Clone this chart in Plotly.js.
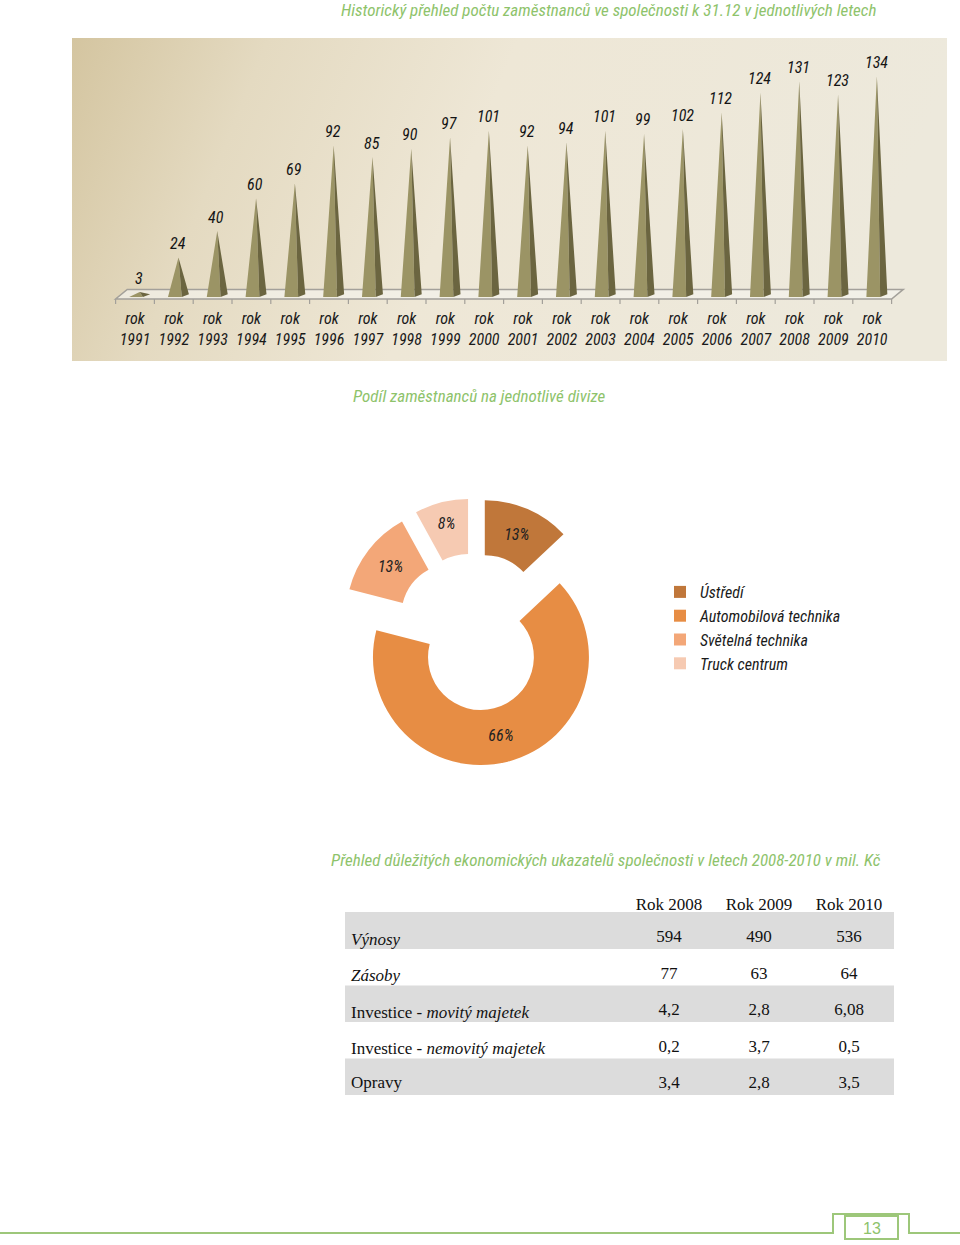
<!DOCTYPE html>
<html>
<head>
<meta charset="utf-8">
<script src="https://cdn.plot.ly/plotly-3.0.1.min.js"></script>
<style>html,body{margin:0;padding:0;background:#fff;}#chart{width:960px;height:1245px;}</style>
</head>
<body>
<div id="chart"></div>
<script>
// ---------------- DATA ----------------
const years = [1991,1992,1993,1994,1995,1996,1997,1998,1999,2000,2001,2002,2003,2004,2005,2006,2007,2008,2009,2010];
const employees = [3,24,40,60,69,92,85,90,97,101,92,94,101,99,102,112,124,131,123,134];
const yearTickText = years.map(y => 'rok<br>' + y);

const divisions = ['Ústředí','Automobilová technika','Světelná technika','Truck centrum'];
const divisionShares = [13,66,13,8];

const tableHeader = ['', 'Rok 2008', 'Rok 2009', 'Rok 2010'];
const indicators = ['<i>Výnosy</i>', '<i>Zásoby</i>', 'Investice - <i>movitý majetek</i>', 'Investice - <i>nemovitý majetek</i>', 'Opravy'];
const values2008 = [594, 77, 4.2, 0.2, 3.4];
const values2009 = [490, 63, 2.8, 3.7, 2.8];
const values2010 = [536, 64, 6.08, 0.5, 3.5];

const pageNumber = '13';

// ---------------- STYLE ----------------
const W = 960, H = 1245;
const px = p => p / W;
const py = p => 1 - p / H;
const NARROW = "'Roboto Condensed', 'Liberation Sans Narrow', 'Arial Narrow', 'Liberation Sans', Arial, sans-serif";
const SERIF = "'Liberation Serif', 'Times New Roman', serif";
const GREEN = '#8ec36b';
const FRONT = '#9b9465';
const SIDE = '#6b6540';

// pyramids built from the data through the x/y axes
const frontX = [], frontY = [], sideX = [], sideY = [];
employees.forEach((v, i) => {
  const apex = i + 0.12;
  frontX.push(i - 0.15, apex, i + 0.205, i - 0.15, null);
  frontY.push(0, v, 0, 0, null);
  sideX.push(i + 0.205, apex, i + 0.39, i + 0.205, null);
  sideY.push(0, v, 1.6, 0, null);
});

const fmt = v => String(v).replace('.', ',');

const traces = [
  {type: 'scatter', x: frontX, y: frontY, mode: 'lines', fill: 'toself', fillcolor: FRONT,
   line: {width: 0, color: FRONT}, hoverinfo: 'skip', showlegend: false, xaxis: 'x', yaxis: 'y'},
  {type: 'scatter', x: sideX, y: sideY, mode: 'lines', fill: 'toself', fillcolor: SIDE,
   line: {width: 0, color: SIDE}, hoverinfo: 'skip', showlegend: false, xaxis: 'x', yaxis: 'y'},
  {type: 'pie', labels: divisions, values: divisionShares, sort: false, direction: 'clockwise', rotation: 0,
   hole: 0.49, pull: 0.24,
   marker: {colors: ['#c0773a', '#e78d44', '#f3a778', '#f6cab2'], line: {width: 0}},
   textinfo: 'percent', textposition: 'inside', insidetextorientation: 'horizontal',
   textfont: {family: NARROW, size: 16, style: 'italic', color: '#222'},
   domain: {x: [px(474.5 - 133.9), px(474.5 + 133.9)], y: [py(632 + 133.9), py(632 - 133.9)]},
   hoverinfo: 'label+percent'},
  {type: 'table', columnwidth: [281, 90, 90, 90],
   domain: {x: [px(343), px(894)], y: [py(1110), py(889.5)]},
   header: {values: tableHeader, align: ['left', 'center', 'center', 'center'], height: 32,
            fill: {color: 'rgba(0,0,0,0)'}, line: {width: 0, color: 'rgba(0,0,0,0)'},
            font: {family: SERIF, size: 17, color: '#111'}},
   cells: {values: [indicators, values2008.map(fmt), values2009.map(fmt), values2010.map(fmt)],
           align: ['left', 'center', 'center', 'center'], height: 36.5,
           fill: {color: 'rgba(0,0,0,0)'},
           line: {width: 0, color: 'rgba(0,0,0,0)'},
           font: {family: SERIF, size: 17, color: '#111'}}}
];

// floor plate + ticks (decoration)
let tickPath = '';
for (let k = 0; k <= years.length; k++) {
  tickPath += `M${k - 0.5},-1.2 L${k - 0.5},-4.2 `;
}

const gradSvg = "<svg xmlns='http://www.w3.org/2000/svg' width='875' height='323' viewBox='0 0 875 323' preserveAspectRatio='none'>" +
  "<defs><linearGradient id='g' x1='0' y1='0' x2='1' y2='0.15'>" +
  "<stop offset='0' stop-color='#d4c5a0'/><stop offset='0.22' stop-color='#e4dac1'/>" +
  "<stop offset='0.5' stop-color='#eee7d6'/><stop offset='1' stop-color='#ede9dc'/>" +
  "</linearGradient></defs><rect width='875' height='323' fill='url(#g)'/></svg>";

const footY = py(1233), tabY = py(1214);
const shapes = [
  {type: 'path', xref: 'x', yref: 'y', layer: 'below',
   path: 'M-0.5,-1.2 L19.5,-1.2 L19.8,4.6 L-0.2,4.6 Z',
   fillcolor: 'rgba(244,242,236,0.7)', line: {color: '#a3a09a', width: 1.5}},
  {type: 'path', xref: 'x', yref: 'y', layer: 'below', path: tickPath,
   line: {color: '#a3a09a', width: 1.2}},
  // table row bands
  ...[[912, 949], [985.5, 1022], [1058.5, 1095]].map(b => ({type: 'rect', xref: 'paper', yref: 'paper', layer: 'below',
    x0: px(345), x1: px(894), y0: py(b[1]), y1: py(b[0]), fillcolor: '#dcdcdc', line: {width: 0}})),
  // footer line with page tab
  {type: 'path', xref: 'paper', yref: 'paper',
   path: `M0,${footY} L${px(833)},${footY} L${px(833)},${tabY} L${px(909)},${tabY} L${px(909)},${footY} L1,${footY}`,
   line: {color: '#9dc77a', width: 2}},
  {type: 'rect', xref: 'paper', yref: 'paper', x0: px(845), x1: px(898), y0: py(1239), y1: py(1216),
   line: {color: '#9dc77a', width: 2}}
];

const annotations = [
  {text: 'Historický přehled počtu zaměstnanců ve společnosti k 31.12 v jednotlivých letech',
   xref: 'paper', yref: 'paper', x: px(608), y: py(10), xanchor: 'center', yanchor: 'middle', showarrow: false,
   font: {family: NARROW, size: 17, style: 'italic', color: GREEN}},
  {text: 'Podíl zaměstnanců na jednotlivé divize',
   xref: 'paper', yref: 'paper', x: px(479.5), y: py(396), xanchor: 'center', yanchor: 'middle', showarrow: false,
   font: {family: NARROW, size: 17, style: 'italic', color: GREEN}},
  {text: 'Přehled důležitých ekonomických ukazatelů společnosti v letech 2008-2010 v mil. Kč',
   xref: 'paper', yref: 'paper', x: px(606), y: py(860), xanchor: 'center', yanchor: 'middle', showarrow: false,
   font: {family: NARROW, size: 17, style: 'italic', color: GREEN}},
  {text: pageNumber, xref: 'paper', yref: 'paper', x: px(871.5), y: py(1228), xanchor: 'center', yanchor: 'middle',
   showarrow: false, font: {family: "'Liberation Sans', Arial, sans-serif", size: 16, color: GREEN}}
];
employees.forEach((v, i) => {
  annotations.push({text: String(v), xref: 'x', yref: 'y', x: i + 0.1, y: v, yshift: 14,
    showarrow: false, xanchor: 'center', yanchor: 'middle',
    font: {family: NARROW, size: 16, style: 'italic', color: '#151515'}});
});

const layout = {
  width: W, height: H,
  margin: {l: 0, r: 0, t: 0, b: 0},
  paper_bgcolor: '#ffffff', plot_bgcolor: 'rgba(0,0,0,0)',
  showlegend: true,
  legend: {x: px(660), xanchor: 'left', y: py(575), yanchor: 'top', bgcolor: 'rgba(0,0,0,0)',
           font: {family: NARROW, size: 16, style: 'italic', color: '#1a1a1a'}},
  xaxis: {domain: [px(135 - 0.8 * 38.8), px(135 + 19.9 * 38.8)], range: [-0.8, 19.9],
          tickmode: 'array', tickvals: years.map((y, i) => i), ticktext: yearTickText, tickangle: 0,
          ticklabelstandoff: 1,
          showgrid: false, zeroline: false, showline: false, ticks: '',
          tickfont: {family: NARROW, size: 16, style: 'italic', color: '#1a1a1a'}, fixedrange: true},
  yaxis: {domain: [py(306), py(45)], range: [-(306 - 297) / 1.647, (297 - 45) / 1.647],
          visible: false, fixedrange: true},
  images: [{source: 'data:image/svg+xml;utf8,' + encodeURIComponent(gradSvg),
            xref: 'paper', yref: 'paper', x: px(72), y: py(38), sizex: px(947) - px(72), sizey: py(38) - py(361),
            xanchor: 'left', yanchor: 'top', sizing: 'stretch', layer: 'below'}],
  shapes: shapes,
  annotations: annotations
};

Plotly.newPlot('chart', traces, layout, {displayModeBar: false, staticPlot: true});
</script>
</body>
</html>
